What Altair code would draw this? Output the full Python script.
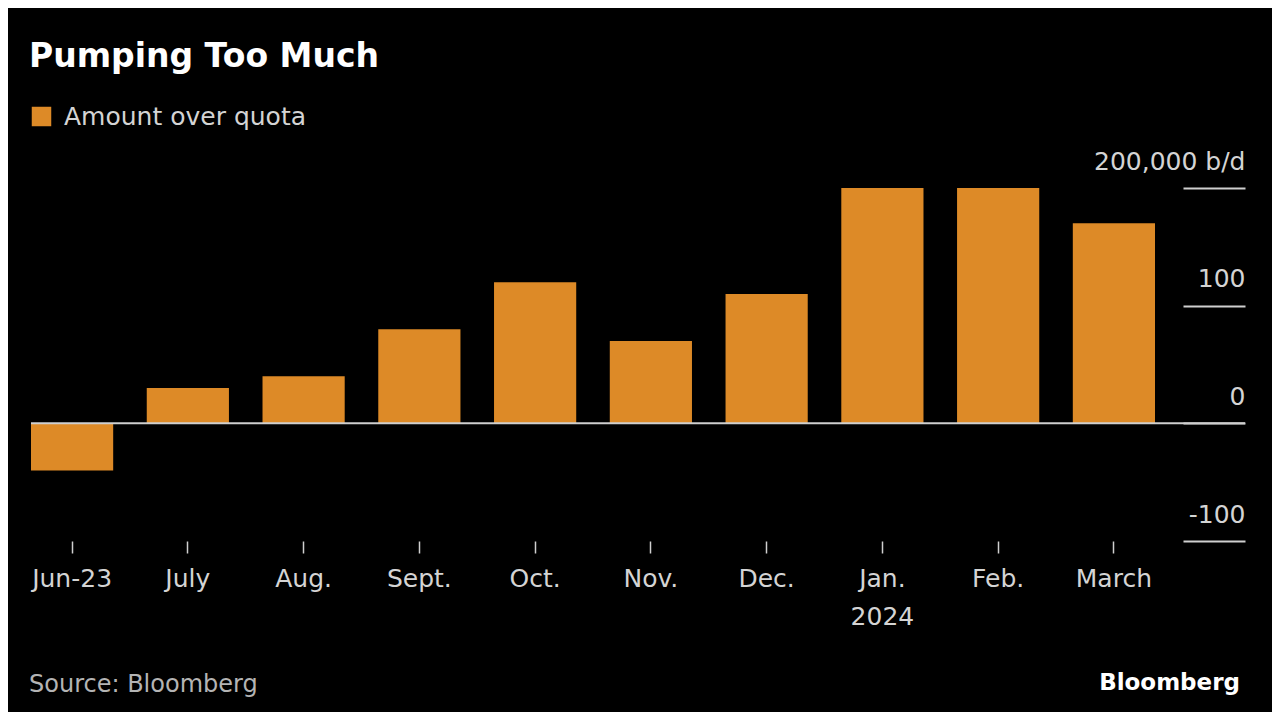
import altair as alt
import pandas as pd

months = ["Jun-23", "July", "Aug.", "Sept.", "Oct.", "Nov.", "Dec.", "Jan.", "Feb.", "March"]
over_quota = [-40, 30, 40, 80, 120, 70, 110, 200, 200, 170]  # thousand b/d
series_name = "Amount over quota"
y_ticks = [-100, 0, 100, 200]

df = pd.DataFrame({"month": months, "value": over_quota, "series": [series_name] * len(months)})

FONT = "DejaVu Sans"
ORANGE = "#DD8A27"
GRID = "#cfcfcf"
LABEL = "#d4d4d4"

W, H = 1124, 353

bars = alt.Chart(df).mark_bar(color=ORANGE).encode(
    x=alt.X(
        "month:N",
        sort=months,
        scale=alt.Scale(paddingInner=0.29, paddingOuter=0),
        axis=alt.Axis(
            title=None,
            domain=False,
            ticks=True,
            tickSize=12,
            tickWidth=1.5,
            tickColor=GRID,
            labelAngle=0,
            labelFont=FONT,
            labelFontSize=25,
            labelColor=LABEL,
            labelPadding=13,
            labelLineHeight=38,
            labelOverlap=False,
            labelExpr="datum.value == 'Jan.' ? ['Jan.', '2024'] : datum.value",
        ),
    ),
    y=alt.Y(
        "value:Q",
        scale=alt.Scale(domain=[-100, 200], nice=False, zero=False),
        axis=alt.Axis(
            title=None,
            orient="right",
            values=y_ticks,
            domain=False,
            grid=False,
            offset=28,
            tickSize=62,
            tickWidth=2,
            tickColor=GRID,
            labelAlign="right",
            labelBaseline="middle",
            labelPadding=0,
            labelOffset=-27,
            labelFont=FONT,
            labelFontSize=25,
            labelColor=LABEL,
            labelExpr="datum.value == 200 ? '200,000 b/d' : '' + datum.value",
        ),
    ),
    fill=alt.Fill(
        "series:N",
        scale=alt.Scale(range=[ORANGE]),
        legend=alt.Legend(
            title=None,
            orient="none",
            legendX=-2,
            legendY=-84,
            symbolType="square",
            symbolSize=380,
            symbolStrokeWidth=0,
            labelFont=FONT,
            labelFontSize=25,
            labelColor=LABEL,
            labelOffset=10,
            labelLimit=0,
            padding=0,
        ),
    ),
)

zero = alt.Chart(pd.DataFrame({"y": [0]})).mark_rule(color=GRID, strokeWidth=2).encode(
    y="y:Q",
    x=alt.value(0),
    x2=alt.value(W + 28 + 62),
)

source = alt.Chart(pd.DataFrame({"t": ["Source: Bloomberg"]})).mark_text(
    align="left", baseline="middle", font=FONT, fontSize=24, color="#b4b4b4"
).encode(text="t:N", x=alt.value(-2), y=alt.value(497))

logo = alt.Chart(pd.DataFrame({"t": ["Bloomberg"]})).mark_text(
    align="right", baseline="middle", font=FONT, fontSize=23, fontWeight="bold", color="#ffffff"
).encode(text="t:N", x=alt.value(1209), y=alt.value(495))

chart = alt.layer(bars, zero, source, logo).properties(
    width=W,
    height=H,
    background="#000000",
    padding={"left": 23, "top": 180, "right": 117, "bottom": 171},
    autosize=alt.AutoSizeParams(type="none"),
    title=alt.Title(
        "Pumping Too Much",
        anchor="start",
        frame="group",
        font=FONT,
        fontSize=33,
        fontWeight="bold",
        color="#ffffff",
        dx=-2,
        offset=30,
    ),
).configure_view(stroke=None)

chart.save("out.html", embed_options={"renderer": "svg", "actions": False})
